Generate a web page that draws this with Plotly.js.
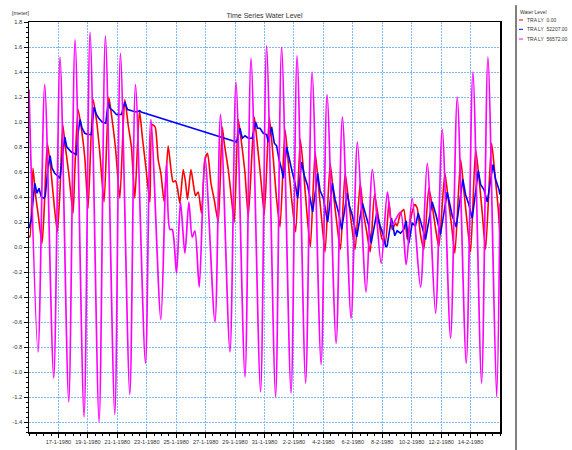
<!DOCTYPE html>
<html><head><meta charset="utf-8">
<script src="https://cdn.plot.ly/plotly-3.0.1.min.js"></script>
<style>html,body{margin:0;padding:0;background:#fff}</style>
</head><body>
<div id="chart" style="width:572px;height:450px"></div>
<script>
// Time origin of the hour offsets below
const START_UTC = Date.UTC(1980, 0, 15, 0, 0, 0);

const chartTitle = 'Time Series Water Level';
const unitLabel = '[meter]';
const legendTitle = 'Water Level';
const seriesNames = ['TRA LY  0.00', 'TRA LY  52207.00', 'TRA LY  56572.00'];
const seriesColors = ['#ff0000', '#0000ff', '#ff00ff'];

// TRA LY 0.00 (hours since start, water level in metres)
const hoursRed = [0,1.6,6.5,10.3,14.7,21.2,24.5,29.9,35.4,39.2,
  46.2,50.6,55.0,59.3,64.8,71.8,74.6,80.0,85.4,90.9,
  96.3,104.5,109.9,115.4,122.4,130.1,134.4,140.9,148.1,156.2,
  161.6,167.0,172.6,180.1,185.0,190.5,197.1,200.8,205.7,210.6,
  215.0,220.4,226.9,231.3,235.1,238.9,242.1,246.0,251.4,255.2,
  258.5,264.0,267.8,271.5,275.9,281.3,286.9,291.1,296.7,302.0,
  308.6,315.1,318.4,324.9,330.3,334.7,341.2,346.6,352.2,357.6,
  367.3,371.1,378.3,383.7,391.8,398.4,403.8,409.3,417.5,422.9,
  428.3,434.8,442.4,447.8,452.7,458.8,466.5,471.8,477.2,482.8,
  491.0,496.3,501.7,507.8,515.4,520.9,526.2,531.8,540.0,545.3,
  550.7,556.3,563.3,568.7,575.2,580.8,587.0,592.2,597.6,600.3,
  605.7,611.1,616.7,622.0,629.1,633.0,638.4,643.8,651.9,657.5,
  662.9,668.3,678.1,683.6,689.1,694.4,703.8,709.1,714.7,720.0,
  728.2,733.6,739.1,744.5,754.3,759.7,765.2,768];
const levelRed = [0.09,0.08,0.63,0.43,0.27,0.03,0.27,0.83,0.63,0.43,
  0.12,0.46,0.98,0.80,0.59,0.27,0.60,1.10,0.95,0.72,
  0.31,1.18,1.02,0.76,0.36,1.20,1.06,0.80,0.39,1.18,
  0.98,0.80,0.39,1.09,0.87,0.64,0.36,0.98,0.96,0.70,
  0.59,0.36,0.81,0.63,0.52,0.53,0.47,0.35,0.62,0.52,
  0.38,0.62,0.51,0.41,0.44,0.27,0.70,0.75,0.51,0.38,
  0.20,0.96,0.83,0.62,0.38,0.20,1.02,0.83,0.59,0.24,
  1.04,0.88,0.53,0.26,1.04,0.70,0.38,0.16,0.94,0.67,
  0.38,0.12,0.86,0.60,0.30,0.00,0.76,0.50,0.22,-0.04,
  0.67,0.43,0.20,-0.02,0.59,0.38,0.17,-0.02,0.51,0.27,
  0.12,-0.04,0.42,0.27,0.07,0.03,0.36,0.14,0.19,0.17,
  0.27,0.30,0.06,0.22,0.34,0.31,0.10,-0.02,0.47,0.33,
  0.15,0.00,0.59,0.38,0.17,-0.05,0.70,0.45,0.18,-0.04,
  0.78,0.56,0.27,-0.02,0.83,0.58,0.30,0.08];

// TRA LY 52207.00
const hoursBlue = [0,3.8,9.3,13.1,16.3,20.1,24.5,26.6,31.0,34.3,
  37.6,42.0,48.5,50.6,53.9,58.3,61.6,64.8,69.1,77.2,
  80.0,83.3,86.5,90.9,96.3,101.7,106.1,109.9,113.8,119.2,
  125.2,129.0,132.2,137.1,142.5,150.7,156.2,160.5,167.0,174.7,
  180.7,182.9,338.5,344.0,347.8,352.2,357.6,364.1,369.5,372.8,
  376.7,382.0,387.4,390.2,395.6,400.0,403.8,407.7,412.0,414.7,
  420.1,424.0,428.3,433.8,438.1,444.6,449.0,454.4,458.3,462.6,
  470.7,474.7,480.0,483.8,487.0,494.7,499.1,504.5,509.9,518.7,
  522.5,527.4,534.4,543.7,549.1,553.5,557.9,567.0,572.6,578.0,
  581.7,584.0,591.0,596.4,600.3,605.7,611.1,615.0,619.3,624.8,
  630.2,634.6,640.0,646.5,657.5,664.0,671.0,681.9,690.1,696.6,
  707.4,711.8,717.2,722.7,732.6,736.3,741.8,747.3,756.5,760.9,
  766.3,768];
const levelBlue = [0.15,0.22,0.51,0.43,0.47,0.40,0.39,0.41,0.64,0.73,
  0.63,0.59,0.56,0.55,0.70,0.88,0.80,0.78,0.76,0.74,
  0.91,1.02,0.95,0.91,0.90,0.90,1.12,1.06,1.03,1.00,
  0.99,1.16,1.11,1.09,1.06,1.06,1.16,1.10,1.09,1.08,
  1.09,1.08,0.84,0.95,0.87,0.89,0.87,0.87,1.00,0.95,
  0.95,0.91,0.90,0.84,0.96,0.83,0.81,0.70,0.62,0.55,
  0.80,0.70,0.62,0.51,0.39,0.68,0.57,0.49,0.39,0.28,
  0.59,0.45,0.39,0.28,0.20,0.51,0.38,0.28,0.14,0.43,
  0.33,0.25,0.08,0.35,0.25,0.18,0.03,0.27,0.17,0.09,
  0.00,0.01,0.23,0.09,0.13,0.11,0.14,0.21,0.03,0.19,
  0.17,0.27,0.18,0.06,0.36,0.25,0.10,0.44,0.25,0.16,
  0.54,0.42,0.34,0.23,0.61,0.50,0.46,0.36,0.66,0.54,
  0.46,0.42];

// TRA LY 56572.00
const hoursMag = [0,14.7,25.6,40.3,50.6,64.8,75.1,89.8,99.6,114.3,
  124.6,139.9,149.1,164.4,173.6,189.9,198.7,215.0,224.2,229.7,
  233.5,240.5,247.0,254.2,260.7,266.1,270.5,277.6,286.9,303.2,
  312.3,327.7,337.5,352.2,362.0,377.6,387.4,402.1,411.9,427.3,
  437.1,451.1,461.6,476.3,486.0,500.8,511.0,525.2,535.5,549.7,
  560.0,574.2,584.5,592.2,605.7,615.0,624.8,638.4,649.3,662.9,
  673.8,687.4,698.3,713.0,723.8,738.0,748.3,762.5,768];
const levelMag = [1.26,-0.84,1.30,-1.05,1.52,-1.24,1.66,-1.36,1.72,-1.40,
  1.69,-1.34,1.55,-1.18,1.30,-0.93,1.02,-0.58,0.68,0.14,
  0.14,-0.21,0.36,-0.05,0.36,0.08,0.13,-0.32,0.72,-0.60,
  1.06,-0.84,1.32,-1.04,1.51,-1.16,1.61,-1.20,1.60,-1.17,
  1.53,-1.09,1.40,-0.94,1.22,-0.77,1.04,-0.57,0.84,-0.36,
  0.62,-0.13,0.44,0.18,0.28,-0.14,0.39,-0.32,0.67,-0.53,
  0.94,-0.73,1.20,-0.93,1.40,-1.09,1.52,-1.20,0.35];

// Axis ticks
const xRangeHours = [0, 768];
const xTickVals = ['1980-01-17','1980-01-19','1980-01-21','1980-01-23','1980-01-25','1980-01-27','1980-01-29','1980-01-31',
  '1980-02-02','1980-02-04','1980-02-06','1980-02-08','1980-02-10','1980-02-12','1980-02-14'];
const xTickText = ['17-1-1980','19-1-1980','21-1-1980','23-1-1980','25-1-1980','27-1-1980','29-1-1980','31-1-1980',
  '2-2-1980','4-2-1980','6-2-1980','8-2-1980','10-2-1980','12-2-1980','14-2-1980'];
const yRange = [-1.48, 1.8];
const yTickVals = [-1.4,-1.2,-1.0,-0.8,-0.6,-0.4,-0.2,0,0.2,0.4,0.6,0.8,1.0,1.2,1.4,1.6,1.8];
const yTickText = ['-1.4','-1.2','-1.0','-0.8','-0.6','-0.4','-0.2','0.0','0.2','0.4','0.6','0.8','1.0','1.2','1.4','1.6','1.8'];

function toDate(h) {
  return new Date(START_UTC + h * 3600e3).toISOString().slice(0, 19).replace('T', ' ');
}

const hoursSets = [hoursRed, hoursBlue, hoursMag];
const levelSets = [levelRed, levelBlue, levelMag];
const lineStyles = [
  {shape:'spline', smoothing:0.6, width:1.6},
  {shape:'linear', width:1.6},
  {shape:'spline', smoothing:0.8, width:1.7}
];

const traces = hoursSets.map((hs, i) => ({
  type: 'scatter', mode: 'lines', name: seriesNames[i],
  x: hs.map(toDate), y: levelSets[i],
  line: Object.assign({color: seriesColors[i]}, lineStyles[i]),
  hoverinfo: 'skip'
}));

const FONT = '"Liberation Sans", Arial, sans-serif';
const gridCol = '#7dbaf7';

const legendY = [1.0049, 0.9822, 0.9585];
const annotations = [
  {text: unitLabel, xref:'paper', yref:'paper', x:-0.017, y:1.0212, xanchor:'center', yanchor:'middle', showarrow:false, font:{size:5.5, color:'#333'}},
  {text: legendTitle, xref:'paper', yref:'paper', x:1.0376, y:1.0251, xanchor:'left', yanchor:'middle', showarrow:false, font:{size:5, color:'#333'}}
];
const shapes = [
  {type:'line', xref:'paper', yref:'paper', x0:1.034, x1:1.034, y0:-0.044, y1:1.041, line:{color:'#000', width:1}}
];
seriesNames.forEach((n, i) => {
  annotations.push({text: n, xref:'paper', yref:'paper', x:1.0531, y:legendY[i], xanchor:'left', yanchor:'middle', showarrow:false, font:{size:5, color:'#333'}});
  shapes.push({type:'line', xref:'paper', yref:'paper', x0:1.0403, x1:1.0488, y0:legendY[i], y1:legendY[i], line:{color:seriesColors[i], width:1}});
});

const layout = {
  width: 572, height: 450,
  margin: {l:29, r:72, t:22, b:18, pad:0},
  paper_bgcolor: '#fff', plot_bgcolor: '#fff',
  showlegend: false,
  font: {family: FONT, size: 6, color: '#333'},
  title: {text: chartTitle, font: {family: FONT, size: 7, color: '#333'}, x: 0.5, xref: 'paper', xanchor:'center', y: 1 - 15.7/450, yref: 'container', yanchor: 'middle'},
  xaxis: {
    type: 'date', range: xRangeHours.map(toDate),
    tickmode: 'array', tickvals: xTickVals, ticktext: xTickText,
    ticks: 'outside', ticklen: 4, tickcolor: '#000', tickwidth: 1,
    tickfont: {size: 5.6, color: '#333'},
    showline: true, linecolor: '#000', linewidth: 1.5, mirror: true,
    showgrid: true, gridcolor: gridCol, griddash: '2px,1px', gridwidth: 1,
    zeroline: false,
    minor: {tick0: toDate(0), dtick: 12*3600e3, ticks: 'outside', ticklen: 2, tickcolor: '#000', showgrid: false}
  },
  yaxis: {
    range: yRange,
    tickmode: 'array', tickvals: yTickVals, ticktext: yTickText,
    ticks: 'outside', ticklen: 4, tickcolor: '#000', tickwidth: 1,
    tickfont: {size: 5.8, color: '#333'},
    showline: true, linecolor: '#000', linewidth: 1.5, mirror: true,
    showgrid: true, gridcolor: gridCol, griddash: '2px,1px', gridwidth: 1,
    zeroline: false,
    minor: {tick0: 0, dtick: 0.04, ticks: 'outside', ticklen: 2, tickcolor: '#000', showgrid: false}
  },
  annotations: annotations,
  shapes: shapes
};

Plotly.newPlot('chart', traces, layout, {staticPlot: true, displayModeBar: false});
</script>
</body></html>
